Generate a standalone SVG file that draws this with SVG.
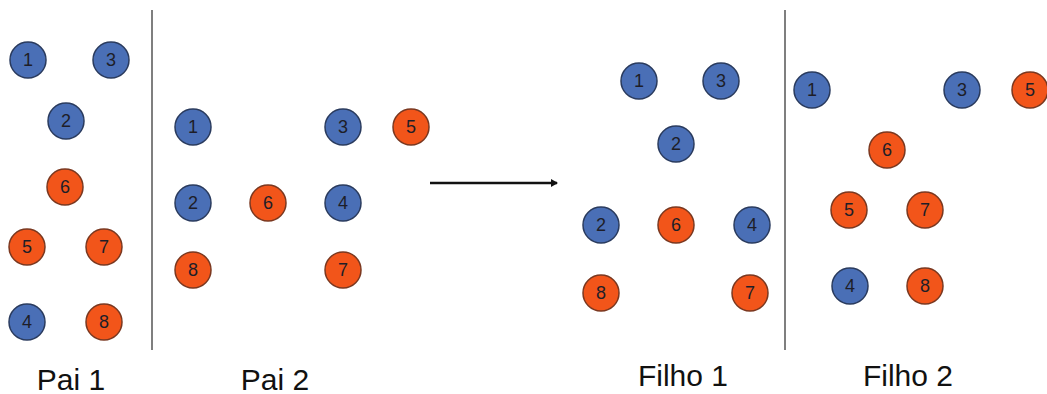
<svg xmlns="http://www.w3.org/2000/svg" width="1047" height="394" viewBox="0 0 1047 394">
  <style>
    .b circle { fill: #4a6fb6; stroke: #2a3b5e; stroke-width: 1.5; }
    .o circle { fill: #f2551a; stroke: #7a3820; stroke-width: 1.5; }
    .n text { font-family: "Liberation Sans", Arial, sans-serif; font-size: 18px; fill: #1e1e28; text-anchor: middle; dominant-baseline: central; }
    .label { font-family: "Liberation Sans", Arial, sans-serif; font-size: 30px; fill: #111; text-anchor: middle; }
    .divider { stroke: #555; stroke-width: 1.5; }
  </style>
  <defs>
    <marker id="arrowhead" markerWidth="8" markerHeight="8" refX="6" refY="4" orient="auto" markerUnits="userSpaceOnUse">
      <path d="M0,0 L7,4 L0,8 Z" fill="#111"/>
    </marker>
  </defs>
  <rect width="1047" height="394" fill="#fff"/>

  <!-- dividers between parents and between children -->
  <g id="dividers">
    <line class="divider" x1="152" y1="10" x2="152" y2="350"/>
    <line class="divider" x1="785" y1="10" x2="785" y2="350"/>
  </g>

  <!-- connector: crossover -->
  <g id="connectors">
    <line x1="430" y1="183" x2="557" y2="183" stroke="#111" stroke-width="2.5" marker-end="url(#arrowhead)"/>
  </g>

  <!-- Pai 1 -->
  <g id="pai1">
    <g id="p1-1" class="n b"><circle cx="28" cy="60" r="18"/><text x="28" y="60">1</text></g>
    <g id="p1-3" class="n b"><circle cx="111" cy="60" r="18"/><text x="111" y="60">3</text></g>
    <g id="p1-2" class="n b"><circle cx="66" cy="121" r="18"/><text x="66" y="121">2</text></g>
    <g id="p1-6" class="n o"><circle cx="65" cy="187" r="18"/><text x="65" y="187">6</text></g>
    <g id="p1-5" class="n o"><circle cx="27" cy="247" r="18"/><text x="27" y="247">5</text></g>
    <g id="p1-7" class="n o"><circle cx="104" cy="247" r="18"/><text x="104" y="247">7</text></g>
    <g id="p1-4" class="n b"><circle cx="27" cy="322" r="18"/><text x="27" y="322">4</text></g>
    <g id="p1-8" class="n o"><circle cx="104" cy="322" r="18"/><text x="104" y="322">8</text></g>
  </g>

  <!-- Pai 2 -->
  <g id="pai2">
    <g id="p2-1" class="n b"><circle cx="193" cy="127" r="18"/><text x="193" y="127">1</text></g>
    <g id="p2-3" class="n b"><circle cx="343" cy="127" r="18"/><text x="343" y="127">3</text></g>
    <g id="p2-5" class="n o"><circle cx="411" cy="127" r="18"/><text x="411" y="127">5</text></g>
    <g id="p2-2" class="n b"><circle cx="193" cy="203" r="18"/><text x="193" y="203">2</text></g>
    <g id="p2-6" class="n o"><circle cx="268" cy="203" r="18"/><text x="268" y="203">6</text></g>
    <g id="p2-4" class="n b"><circle cx="343" cy="203" r="18"/><text x="343" y="203">4</text></g>
    <g id="p2-8" class="n o"><circle cx="193" cy="270" r="18"/><text x="193" y="270">8</text></g>
    <g id="p2-7" class="n o"><circle cx="343" cy="270" r="18"/><text x="343" y="270">7</text></g>
  </g>

  <!-- Filho 1 -->
  <g id="filho1">
    <g id="f1-1" class="n b"><circle cx="639" cy="81" r="18"/><text x="639" y="81">1</text></g>
    <g id="f1-3" class="n b"><circle cx="721" cy="81" r="18"/><text x="721" y="81">3</text></g>
    <g id="f1-2a" class="n b"><circle cx="676" cy="144" r="18"/><text x="676" y="144">2</text></g>
    <g id="f1-2b" class="n b"><circle cx="601" cy="225" r="18"/><text x="601" y="225">2</text></g>
    <g id="f1-6" class="n o"><circle cx="676" cy="225" r="18"/><text x="676" y="225">6</text></g>
    <g id="f1-4" class="n b"><circle cx="752" cy="225" r="18"/><text x="752" y="225">4</text></g>
    <g id="f1-8" class="n o"><circle cx="601" cy="293" r="18"/><text x="601" y="293">8</text></g>
    <g id="f1-7" class="n o"><circle cx="750" cy="293" r="18"/><text x="750" y="293">7</text></g>
  </g>

  <!-- Filho 2 -->
  <g id="filho2">
    <g id="f2-1" class="n b"><circle cx="812" cy="90" r="18"/><text x="812" y="90">1</text></g>
    <g id="f2-3" class="n b"><circle cx="962" cy="90" r="18"/><text x="962" y="90">3</text></g>
    <g id="f2-5a" class="n o"><circle cx="1030" cy="90" r="18"/><text x="1030" y="90">5</text></g>
    <g id="f2-6" class="n o"><circle cx="887" cy="150" r="18"/><text x="887" y="150">6</text></g>
    <g id="f2-5b" class="n o"><circle cx="849" cy="210" r="18"/><text x="849" y="210">5</text></g>
    <g id="f2-7" class="n o"><circle cx="925" cy="210" r="18"/><text x="925" y="210">7</text></g>
    <g id="f2-4" class="n b"><circle cx="850" cy="286" r="18"/><text x="850" y="286">4</text></g>
    <g id="f2-8" class="n o"><circle cx="925" cy="286" r="18"/><text x="925" y="286">8</text></g>
  </g>

  <!-- captions -->
  <g id="labels">
    <text class="label" x="71" y="390">Pai 1</text>
    <text class="label" x="275" y="390">Pai 2</text>
    <text class="label" x="683" y="386">Filho 1</text>
    <text class="label" x="908" y="386">Filho 2</text>
  </g>
</svg>
